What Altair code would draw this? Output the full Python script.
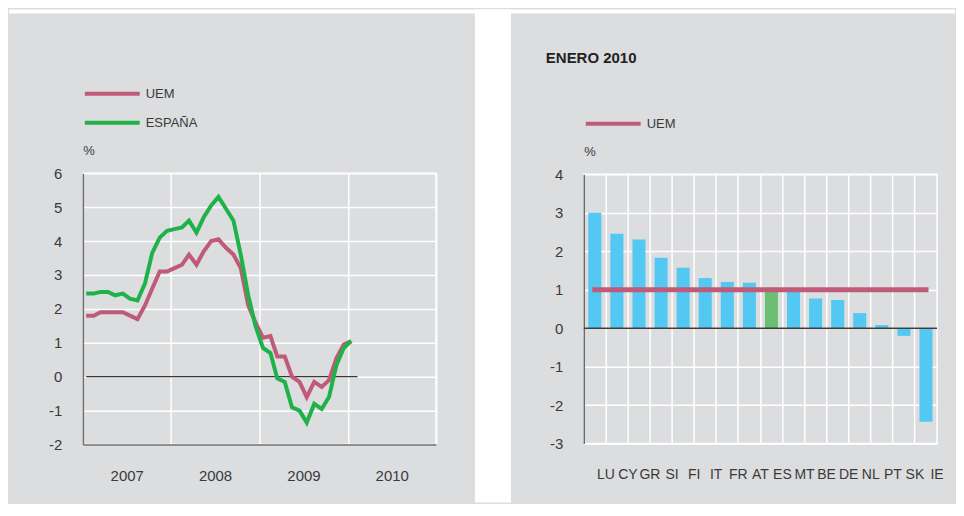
import altair as alt
import pandas as pd

# ---------------- data ----------------
months = (["2007-%02d-15" % m for m in range(1, 13)]
          + ["2008-%02d-15" % m for m in range(1, 13)]
          + ["2009-%02d-15" % m for m in range(1, 13)]
          + ["2010-01-15"])
uem = [1.8, 1.8, 1.9, 1.9, 1.9, 1.9, 1.8, 1.7, 2.1, 2.6, 3.1, 3.1,
       3.2, 3.3, 3.6, 3.3, 3.7, 4.0, 4.05, 3.8, 3.6, 3.2, 2.1, 1.6,
       1.15, 1.2, 0.6, 0.6, 0.0, -0.15, -0.6, -0.15, -0.3, -0.1, 0.55, 0.95,
       1.05]
espana = [2.45, 2.45, 2.5, 2.5, 2.4, 2.45, 2.3, 2.25, 2.75, 3.65, 4.1, 4.3,
          4.35, 4.4, 4.6, 4.25, 4.7, 5.05, 5.3, 4.95, 4.6, 3.6, 2.4, 1.5,
          0.85, 0.7, -0.05, -0.15, -0.9, -1.0, -1.35, -0.8, -0.95, -0.6, 0.35, 0.85,
          1.05]
zero_span = ["2007-01-15", "2010-02-10"]
year_ticks = [2007, 2008, 2009, 2010, 2011]
y_left_ticks = [-2, -1, 0, 1, 2, 3, 4, 5, 6]

countries = ["LU", "CY", "GR", "SI", "FI", "IT", "FR", "AT", "ES", "MT",
             "BE", "DE", "NL", "PT", "SK", "IE"]
values = [3.0, 2.45, 2.3, 1.83, 1.57, 1.3, 1.2, 1.18, 1.05, 0.95,
          0.77, 0.73, 0.39, 0.08, -0.2, -2.43]
uem_jan2010 = 1.0
y_right_ticks = [-3, -2, -1, 0, 1, 2, 3, 4]

# ---------------- styles ----------------
FONT = "Liberation Sans"
TXT = "#3a3a3a"
BG = "#dcdddf"
C_UEM = "#bf5b79"
C_ESP = "#1fb24a"
C_BAR = "#52c8f2"
C_ES = "#6bbf73"

# ---------------- left chart ----------------
line_df = pd.DataFrame({
    "fecha": months * 2,
    "serie": ["UEM"] * len(months) + ["ESPAÑA"] * len(months),
    "valor": uem + espana,
})

x_scale_left = alt.Scale(type="utc", nice=False,
                         domain=[alt.DateTime(year=2007, month=1, date=1, utc=True),
                                 alt.DateTime(year=2011, month=1, date=1, utc=True)])
y_scale_left = alt.Scale(domain=[-2, 6], nice=False, zero=False)

x_axis_left = alt.Axis(
    values=[alt.DateTime(year=y, month=1, date=1, utc=True) for y in year_ticks],
    labelExpr="utcyear(datum.value) > 2010 ? '' : utcFormat(datum.value, '%Y')",
    labelOffset=44, labelFlush=False, labelOverlap=False, labelPadding=24,
    labelFontSize=15, grid=True, ticks=False, title=None)
y_axis_left = alt.Axis(
    values=y_left_ticks, labelExpr="datum.value + ''", labelFontSize=15,
    labelPadding=21, grid=True, ticks=False,
    title="%", titleAngle=0, titleAlign="left", titleBaseline="middle",
    titleX=0, titleY=-23, titleFontSize=13)

color_left = alt.Color(
    "serie:N",
    scale=alt.Scale(domain=["UEM", "ESPAÑA"], range=[C_UEM, C_ESP]),
    legend=alt.Legend(title=None, orient="none", legendX=0, legendY=-87,
                      direction="vertical", symbolType="M-1,0H9", symbolSize=121,
                      symbolStrokeWidth=4, labelOffset=48, labelFontSize=13,
                      labelFont=FONT, labelColor=TXT, rowPadding=12, padding=0))

deco = pd.DataFrame({"d": [0]})
gap_rect = alt.Chart(deco).mark_rect(color="white", clip=False).encode(
    x=alt.value(393), x2=alt.value(429), y=alt.value(-164), y2=alt.value(330))
top_rect = alt.Chart(deco).mark_rect(color="white", clip=False).encode(
    x=alt.value(-74), x2=alt.value(874), y=alt.value(-164), y2=alt.value(-160))

zero_df = pd.DataFrame({"x": [zero_span[0]], "x2": [zero_span[1]], "y": [0]})
zero_left = alt.Chart(zero_df).mark_rule(color="black", strokeWidth=1).encode(
    x=alt.X("x:T", scale=x_scale_left, axis=x_axis_left),
    x2="x2:T",
    y=alt.Y("y:Q", scale=y_scale_left, axis=y_axis_left))

base_lines = alt.Chart(line_df).mark_line(strokeWidth=4, strokeJoin="miter").encode(
    x=alt.X("fecha:T", scale=x_scale_left, axis=x_axis_left),
    y=alt.Y("valor:Q", scale=y_scale_left, axis=y_axis_left),
    color=color_left)
line_uem = base_lines.transform_filter(alt.datum.serie == "UEM")
line_esp = base_lines.transform_filter(alt.datum.serie == "ESPAÑA")

left = alt.layer(gap_rect, top_rect, zero_left, line_uem, line_esp).properties(
    width=354, height=272)

# ---------------- right chart ----------------
bar_df = pd.DataFrame({"pais": countries, "valor": values})
x_scale_right = alt.Scale(domain=countries, paddingInner=0, paddingOuter=0)
y_scale_right = alt.Scale(domain=[-3, 4], nice=False, zero=False)
x_axis_right = alt.Axis(bandPosition=0, labelOffset=11, grid=True, domain=False,
                        ticks=False, labelPadding=24, labelFontSize=14,
                        labelAngle=0, title=None)
y_axis_right = alt.Axis(
    values=y_right_ticks, labelExpr="datum.value + ''", labelFontSize=15,
    labelPadding=21, grid=True, ticks=False,
    title="%", titleAngle=0, titleAlign="left", titleBaseline="middle",
    titleX=0, titleY=-23, titleFontSize=13)

bars = alt.Chart(bar_df).mark_bar(width={"band": 0.59}).encode(
    x=alt.X("pais:N", sort=countries, scale=x_scale_right, axis=x_axis_right),
    y=alt.Y("valor:Q", scale=y_scale_right, axis=y_axis_right),
    color=alt.condition(alt.datum.pais == "ES", alt.value(C_ES), alt.value(C_BAR)))

zero_right = alt.Chart(pd.DataFrame({"y": [0]})).mark_rule(
    color="#3d3d3d", strokeWidth=1.5).encode(
    y=alt.Y("y:Q", scale=y_scale_right, axis=y_axis_right))

uem_df = pd.DataFrame({"x": [countries[0]], "x2": [countries[-1]],
                       "y": [uem_jan2010], "serie": ["UEM"]})
uem_rule = alt.Chart(uem_df).mark_rule(strokeWidth=5, strokeCap="square").encode(
    x=alt.X("x:N", scale=x_scale_right, axis=x_axis_right),
    x2="x2:N",
    y=alt.Y("y:Q", scale=y_scale_right, axis=y_axis_right),
    color=alt.Color("serie:N", scale=alt.Scale(domain=["UEM"], range=[C_UEM]),
                    legend=alt.Legend(title=None, orient="none", legendX=0, legendY=-58,
                                      symbolType="M-1,0H9", symbolSize=121,
                                      symbolStrokeWidth=4, labelOffset=48,
                                      labelFontSize=13, labelFont=FONT,
                                      labelColor=TXT, padding=0)))

right = alt.layer(bars, zero_right, uem_rule).properties(
    width=354, height=270,
    title=alt.TitleParams("ENERO 2010", anchor="start", frame="group", dx=-38, dy=-46,
                          fontSize=15, fontWeight="bold", font=FONT, color="#222222"))

chart = alt.hconcat(left, right, spacing=148, bounds="flush", center=True).resolve_scale(
    color="independent").resolve_legend(color="independent").properties(
    background=BG, padding=0
).configure_view(stroke="white", strokeWidth=1.5).configure_axis(
    gridColor="white", gridWidth=1.5, labelFont=FONT, labelColor=TXT,
    titleFont=FONT, titleColor=TXT, titleFontWeight="normal",
    domainColor="#6b6b6b", domainWidth=1.5)

chart.save("out.html", embed_options={"renderer": "svg", "actions": False})
